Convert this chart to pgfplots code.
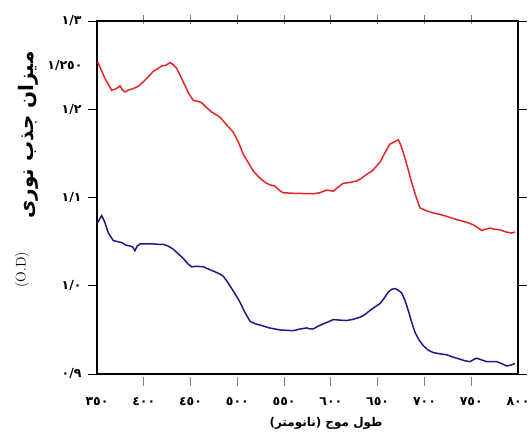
\documentclass[border=0pt]{standalone}
\usepackage{fontspec}
\usepackage{pgfplots}
\pgfplotsset{compat=1.18}
\TeXXeTstate=1
\newfontfamily\arabicfont[Script=Arabic]{DejaVu Sans}
\newcommand\ar[1]{{\arabicfont\bfseries #1}}
\definecolor{redc}{RGB}{228,38,38}
\definecolor{bluec}{RGB}{28,28,135}
\begin{document}
\begin{tikzpicture}
\useasboundingbox (-97pt,-58pt) rectangle (433pt,374pt);
\begin{axis}[
 at={(0,0)}, anchor=south west, scale only axis,
 width=421pt, height=353pt,
 xmin=350, xmax=800, ymin=0.9, ymax=1.3,
 axis line style={line width=1.1pt, black},
 tick align=outside, major tick length=9pt,
 tick style={black, line width=0.9pt},
 every major x tick/.append style={yshift=-3pt, gray},
 xtick={400,450,500,550,600,650,700,750},
 xticklabels={\ar{٤٠٠},\ar{٤٥٠},\ar{٥٠٠},\ar{٥٥٠},\ar{٦٠٠},\ar{٦٥٠},\ar{٧٠٠},\ar{٧٥٠}},
 extra x ticks={350,800},
 extra x tick labels={\ar{٣٥٠},\ar{٨٠٠}},
 extra x tick style={major tick length=0pt, xticklabel style={yshift=-9pt}},
 ytick={0.9,1.0,1.1,1.2,1.3},
 yticklabels={\ar{٠/٩},\ar{١/٠},\ar{١/١},\ar{١/٢},\ar{١/٣}},
 extra y ticks={1.25},
 extra y tick labels={\ar{١/٢٥٠}},
 extra y tick style={major tick length=0pt, yticklabel style={xshift=-8pt}},
 ticklabel style={font=\fontsize{12.5}{14}\selectfont},
 xticklabel style={yshift=-11pt},
 yticklabel style={xshift=-3pt},
 clip=false,
]
\addplot[color=redc, line width=1.5pt] coordinates {
(350.5,1.254) (351.4,1.252) (358,1.236) (365.7,1.2215) (370,1.223) (374.6,1.2265) (377,1.222) (380,1.2196) (384,1.222)
(388.8,1.2234) (394,1.226) (399.5,1.231) (405,1.237) (410.2,1.243) (415,1.246) (419,1.249) (424,1.250) (428,1.2528)
(431,1.251) (435.2,1.2463) (440,1.236) (444,1.227) (448,1.218) (453,1.210) (458,1.209) (462,1.2074) (467,1.202)
(472.6,1.1968) (477,1.194) (481.5,1.191) (488,1.183) (495.7,1.174) (501,1.163) (506.4,1.149) (512,1.139) (517,1.130)
(524,1.122) (531.4,1.116) (536,1.114) (540,1.113) (545,1.108) (549,1.1054) (556,1.105) (563.4,1.1046) (572,1.1045)
(581,1.1042) (588.3,1.1054) (595.5,1.1084) (602.6,1.1072) (608,1.112) (613,1.116) (620,1.117) (627.6,1.1187)
(633,1.122) (638.3,1.1263) (644,1.130) (649,1.1358) (653,1.141) (656,1.1472) (660,1.155) (663.2,1.1606) (668,1.163)
(672,1.1655) (674.5,1.160) (677.4,1.151) (682,1.134) (686.4,1.1168) (691,1.101) (695.2,1.0882) (702,1.085)
(709.4,1.0825) (716,1.081) (723.8,1.0786) (731,1.076) (738,1.074) (745,1.072) (752.2,1.069) (757,1.066)
(761.2,1.0626) (765,1.064) (770,1.0653) (775,1.064) (780.7,1.0634) (787,1.061) (793.2,1.0597) (797,1.061)
};
\addplot[color=bluec, line width=1.5pt] coordinates {
(350.5,1.071) (351.4,1.0729) (355,1.0794) (358,1.073) (362,1.060) (367.4,1.0512) (372,1.050) (376.4,1.0489)
(381,1.046) (385.3,1.0451) (388,1.044) (390.6,1.0398) (393,1.045) (396,1.0474) (403,1.0474) (410.2,1.0474)
(415,1.047) (420.9,1.047) (426,1.045) (431.6,1.0414) (437,1.036) (442.2,1.031) (447,1.025) (451.2,1.0215)
(457,1.022) (463.6,1.0215) (469,1.019) (474.3,1.0166) (480,1.014) (485,1.0109) (489,1.005) (494,0.9968)
(498,0.990) (502.8,0.9815) (508,0.970) (513.5,0.9598) (519,0.957) (526,0.9549) (535,0.952) (545.6,0.950)
(552,0.9495) (559.8,0.9491) (567,0.951) (574.1,0.9522) (578,0.951) (581.2,0.9511) (586,0.954) (591.9,0.9568)
(597,0.959) (602.6,0.9617) (610,0.961) (616.9,0.9606) (624,0.962) (631.1,0.9644) (636,0.967) (641.8,0.972)
(647,0.976) (652.5,0.9797) (657,0.986) (661.4,0.993) (665,0.996) (668.5,0.9968) (672,0.995) (675.7,0.9918)
(679,0.984) (682.7,0.972) (686,0.960) (689.9,0.9472) (694,0.939) (698.8,0.932) (704,0.927) (709.4,0.9243)
(716,0.923) (723.8,0.9217) (731,0.919) (738,0.9168) (743,0.915) (748.7,0.914) (752,0.916) (755.8,0.918)
(761,0.916) (766.5,0.914) (772,0.914) (777.2,0.914) (782,0.912) (787.9,0.9091) (792,0.910) (796.8,0.9118)
};
\node[rotate=90, font=\fontsize{20}{22}\selectfont] at (axis description cs:-0.164,0.677) {\ar{\beginR میزان جذب نوری\endR}};
\node[rotate=90, font=\fontsize{14}{16}\selectfont] at (axis description cs:-0.178,0.295) {(O.D)};
\node[font=\fontsize{12}{14}\selectfont] at (axis description cs:0.544,-0.139) {\ar{\beginR طول موج (نانومتر)\endR}};
\end{axis}
\end{tikzpicture}
\end{document}
